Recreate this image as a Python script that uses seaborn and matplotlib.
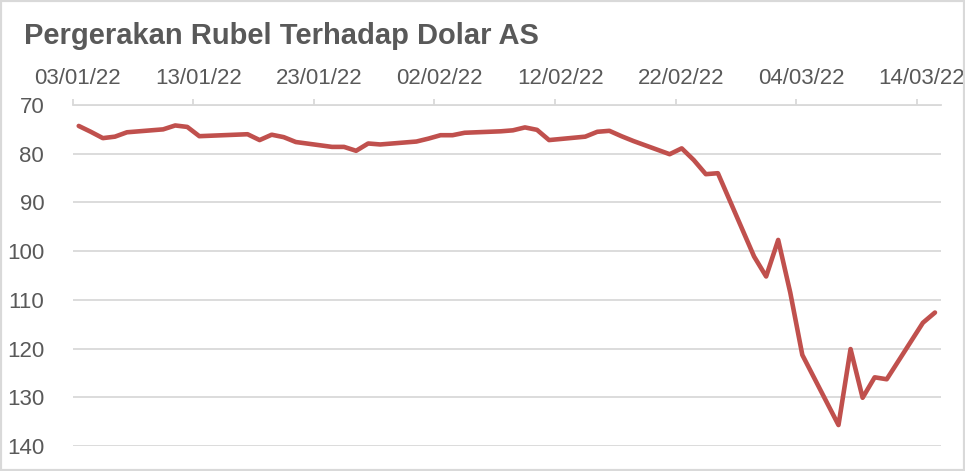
import matplotlib
matplotlib.use("Agg")
import matplotlib.pyplot as plt
import matplotlib.dates as mdates
import matplotlib.transforms as mtransforms
from matplotlib.patches import Rectangle
import seaborn as sns
import pandas as pd

# ---- data ----
dates = [
    "2022-01-03", "2022-01-04", "2022-01-05", "2022-01-06", "2022-01-07",
    "2022-01-10", "2022-01-11", "2022-01-12", "2022-01-13", "2022-01-14",
    "2022-01-17", "2022-01-18", "2022-01-19", "2022-01-20", "2022-01-21",
    "2022-01-24", "2022-01-25", "2022-01-26", "2022-01-27", "2022-01-28",
    "2022-01-31", "2022-02-01", "2022-02-02", "2022-02-03", "2022-02-04",
    "2022-02-07", "2022-02-08", "2022-02-09", "2022-02-10", "2022-02-11",
    "2022-02-14", "2022-02-15", "2022-02-16", "2022-02-17", "2022-02-18",
    "2022-02-21", "2022-02-22", "2022-02-23", "2022-02-24", "2022-02-25",
    "2022-02-28", "2022-03-01", "2022-03-02", "2022-03-03", "2022-03-04",
    "2022-03-07", "2022-03-08", "2022-03-09", "2022-03-10", "2022-03-11",
    "2022-03-14", "2022-03-15",
]
rub_per_usd = [
    74.3, 75.5, 76.8, 76.5, 75.6,
    75.0, 74.2, 74.5, 76.4, 76.3,
    76.0, 77.2, 76.1, 76.6, 77.6,
    78.6, 78.6, 79.4, 77.9, 78.1,
    77.5, 76.9, 76.2, 76.2, 75.7,
    75.4, 75.2, 74.6, 75.1, 77.2,
    76.5, 75.5, 75.3, 76.4, 77.4,
    80.1, 78.9, 81.3, 84.2, 84.0,
    101.1, 105.2, 97.7, 108.5, 121.3,
    135.7, 120.1, 130.1, 125.9, 126.3,
    114.7, 112.6,
]
tick_dates = ["2022-01-03", "2022-01-13", "2022-01-23", "2022-02-02",
              "2022-02-12", "2022-02-22", "2022-03-04", "2022-03-14"]
y_ticks = [70, 80, 90, 100, 110, 120, 130, 140]
x_start, x_end = "2022-01-03", "2022-03-16"
title = "Pergerakan Rubel Terhadap Dolar AS"

# ---- style ----
sns.set_theme(style="white")
plt.rcParams["font.family"] = ["Liberation Sans", "DejaVu Sans"]
GRAY_TXT = "#595959"
GRID = "#D9D9D9"
LINE = "#C0504D"

# points sit in the middle of each day's slot (date axis)
df = pd.DataFrame({
    "date": pd.to_datetime(dates) + pd.Timedelta(hours=12),
    "rate": rub_per_usd,
})

W, H = 965, 471
fig = plt.figure(figsize=(W / 100, H / 100), dpi=100)
left, right, top, bottom = 72.7, 941, 105, 446
ax = fig.add_axes([left / W, 1 - bottom / H, (right - left) / W, (bottom - top) / H])

sns.lineplot(data=df, x="date", y="rate", ax=ax, color=LINE, linewidth=3.3)

ax.set_ylim(max(y_ticks), min(y_ticks))
ax.set_xlim(pd.Timestamp(x_start), pd.Timestamp(x_end))
ax.xaxis.tick_top()
ax.set_xticks(pd.to_datetime(tick_dates))
ax.xaxis.set_major_formatter(mdates.DateFormatter("%d/%m/%y"))
ax.set_yticks(y_ticks)

ax.grid(axis="y", color=GRID, linewidth=1.3)
ax.grid(axis="x", visible=False)
for s in ["left", "right", "bottom"]:
    ax.spines[s].set_visible(False)
ax.spines["top"].set_color(GRID)
ax.spines["top"].set_linewidth(1.3)

ax.tick_params(axis="x", top=True, bottom=False, length=4.5, width=1.3, color=GRID,
               pad=7, labelsize=16, labelcolor=GRAY_TXT)
ax.tick_params(axis="y", left=False, length=0, pad=20.5, labelsize=16, labelcolor=GRAY_TXT)
ax.set_xlabel("")
ax.set_ylabel("")

offset = mtransforms.ScaledTranslation(5 / 100, 0, fig.dpi_scale_trans)
for lab in ax.get_xticklabels():
    lab.set_transform(lab.get_transform() + offset)

fig.text(24 / W, 1 - 36 / H, title, fontsize=21, fontweight="bold",
         color=GRAY_TXT, va="center", ha="left")

fig.patches.append(Rectangle((0, 0), 1, 1, transform=fig.transFigure, fill=False,
                             edgecolor=GRID, linewidth=3))

fig.savefig("out.png", dpi=100)
